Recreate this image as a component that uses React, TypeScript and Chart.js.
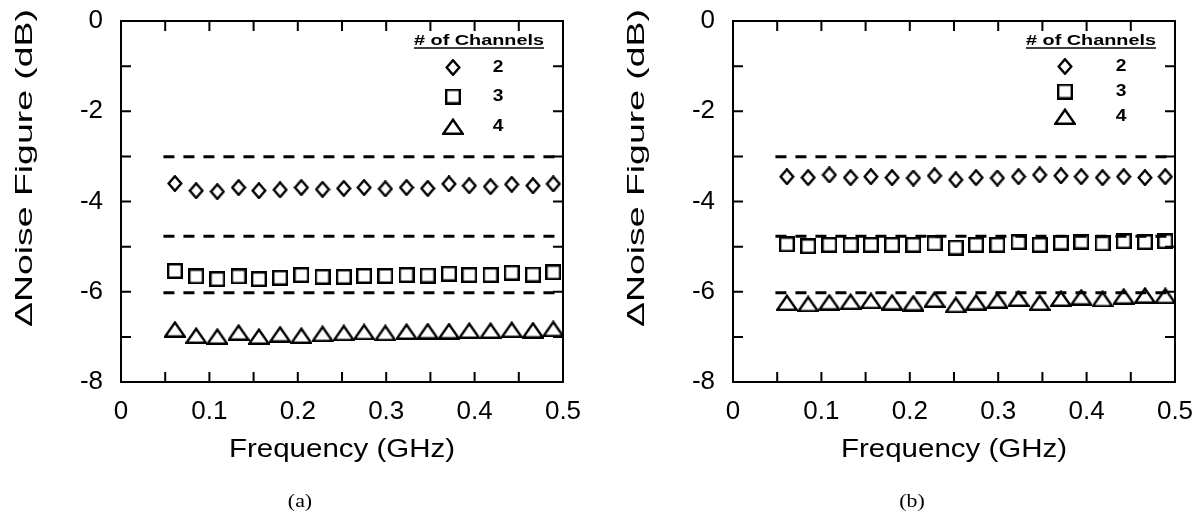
import React, { useEffect, useRef } from "react";
import { Chart, registerables } from "chart.js";

Chart.register(...registerables);

const SANS = "'Liberation Sans', Arial, Helvetica, sans-serif";
const SERIF = "'Liberation Serif', 'Times New Roman', serif";

// ---- data ----
const freqGHz = [0.061, 0.085, 0.109, 0.133, 0.156, 0.18, 0.204, 0.228, 0.252, 0.275, 0.299, 0.323, 0.347, 0.371, 0.394, 0.418, 0.442, 0.466, 0.489];

const ch2A = [-3.6, -3.76, -3.78, -3.69, -3.76, -3.74, -3.69, -3.73, -3.71, -3.69, -3.72, -3.69, -3.71, -3.61, -3.65, -3.67, -3.62, -3.65, -3.61];
const ch3A = [-5.54, -5.66, -5.72, -5.66, -5.72, -5.69, -5.63, -5.67, -5.67, -5.65, -5.65, -5.63, -5.64, -5.6, -5.63, -5.63, -5.58, -5.62, -5.57];
const ch4A = [-6.83, -6.97, -6.99, -6.9, -6.99, -6.94, -6.97, -6.93, -6.91, -6.89, -6.91, -6.88, -6.87, -6.87, -6.86, -6.86, -6.84, -6.85, -6.82];

const ch2B = [-3.45, -3.47, -3.41, -3.47, -3.45, -3.47, -3.48, -3.43, -3.52, -3.47, -3.48, -3.45, -3.41, -3.43, -3.45, -3.47, -3.45, -3.47, -3.45];
const ch3B = [-4.95, -4.99, -4.96, -4.96, -4.96, -4.96, -4.96, -4.93, -5.02, -4.96, -4.96, -4.9, -4.96, -4.91, -4.89, -4.93, -4.88, -4.9, -4.88];
const ch4B = [-6.24, -6.27, -6.23, -6.22, -6.2, -6.23, -6.25, -6.17, -6.29, -6.23, -6.19, -6.15, -6.24, -6.15, -6.12, -6.16, -6.1, -6.08, -6.09];

const refLevels = [-3.01, -4.77, -6.02];
const refRange = [0.048, 0.5];

const xTickMarks = [0, 0.05, 0.1, 0.15, 0.2, 0.25, 0.3, 0.35, 0.4, 0.45, 0.5];
const yTickMarks = [0, -1, -2, -3, -4, -5, -6, -7, -8];

const legendTitle = "# of Channels";
const legendLabels = ["2", "3", "4"];
const xTitle = "Frequency (GHz)";
const yTitle = "\u0394Noise Figure (dB)";

type Kind = "diamond" | "square" | "triangle";

function makeMarker(kind: Kind): HTMLCanvasElement {
  const c = document.createElement("canvas");
  const lw = 2.4;
  let w = 16, h = 17;
  if (kind === "square") { w = 16; h = 16; }
  if (kind === "triangle") { w = 22; h = 17; }
  c.width = w; c.height = h;
  const ctx = c.getContext("2d")!;
  ctx.strokeStyle = "#000";
  ctx.lineWidth = lw;
  ctx.lineJoin = "miter";
  ctx.beginPath();
  const m = lw / 2;
  if (kind === "diamond") {
    ctx.moveTo(w / 2, m); ctx.lineTo(w - m - 0.5, h / 2); ctx.lineTo(w / 2, h - m); ctx.lineTo(m + 0.5, h / 2); ctx.closePath();
  } else if (kind === "square") {
    ctx.rect(m, m, w - 2 * m, h - 2 * m);
  } else {
    ctx.moveTo(w / 2, m + 0.5); ctx.lineTo(w - m, h - m); ctx.lineTo(m, h - m); ctx.closePath();
  }
  ctx.stroke();
  return c;
}

interface PanelCfg {
  caption: string;
  s2: number[];
  s3: number[];
  s4: number[];
  padRight: number;
  legendRowsY: number[];
  legendLabelDx: number;
}

function drawScaled(ctx: CanvasRenderingContext2D, text: string, cx: number, cy: number, font: string, sx: number, rotate = false) {
  ctx.save();
  ctx.font = font;
  ctx.fillStyle = "#000";
  ctx.textAlign = "center";
  ctx.textBaseline = "middle";
  ctx.translate(cx, cy);
  if (rotate) ctx.rotate(-Math.PI / 2);
  ctx.scale(sx, 1);
  ctx.fillText(text, 0, 0);
  ctx.restore();
}

function drawToWidth(ctx: CanvasRenderingContext2D, text: string, cx: number, cy: number, font: string, width: number, rotate = false) {
  ctx.save();
  ctx.font = font;
  const w = ctx.measureText(text).width;
  ctx.restore();
  drawScaled(ctx, text, cx, cy, font, width / w, rotate);
}

const zeroPad = (s: any) => {
  s.paddingTop = 0;
  s.paddingBottom = 0;
  s.paddingLeft = 0;
  s.paddingRight = 0;
};

function Panel({ cfg, left, width }: { cfg: PanelCfg; left: number; width: number }) {
  const ref = useRef<HTMLCanvasElement | null>(null);
  useEffect(() => {
    if (!ref.current) return;
    const markers = {
      diamond: makeMarker("diamond"),
      square: makeMarker("square"),
      triangle: makeMarker("triangle"),
    };
    const kinds: Kind[] = ["diamond", "square", "triangle"];
    const series = [cfg.s2, cfg.s3, cfg.s4];

    const refSets = refLevels.map((lvl) => ({
      type: "line" as const,
      data: refRange.map((x) => ({ x, y: lvl })),
      borderColor: "#000",
      borderWidth: 3,
      borderDash: [11, 9],
      pointRadius: 0,
      showLine: true,
      fill: false,
    }));
    const markerSets = series.map((vals, k) => ({
      type: "scatter" as const,
      data: freqGHz.map((f, i) => ({ x: f, y: vals[i] })),
      pointStyle: markers[kinds[k]],
      pointRadius: 7,
      showLine: false,
    }));

    const framePlugin = {
      id: "frame",
      afterDraw(chart: any) {
        const ctx: CanvasRenderingContext2D = chart.ctx;
        const { left: l, right: r, top: t, bottom: b } = chart.chartArea;
        const xs = chart.scales.x;
        const ys = chart.scales.y;
        ctx.save();
        ctx.strokeStyle = "#000";
        ctx.lineWidth = 2;
        ctx.strokeRect(l, t, r - l, b - t);
        ctx.beginPath();
        for (const v of xTickMarks) {
          const px = xs.getPixelForValue(v);
          ctx.moveTo(px, b); ctx.lineTo(px, b - 10);
          ctx.moveTo(px, t); ctx.lineTo(px, t + 10);
        }
        for (const v of yTickMarks) {
          const py = ys.getPixelForValue(v);
          ctx.moveTo(l, py); ctx.lineTo(l + 10, py);
          ctx.moveTo(r, py); ctx.lineTo(r - 10, py);
        }
        ctx.stroke();

        // legend
        const tx = l + 358;
        drawToWidth(ctx, legendTitle, tx, 41, `bold 15px ${SANS}`, 130);
        ctx.lineWidth = 1.5;
        ctx.beginPath();
        ctx.moveTo(tx - 65, 48); ctx.lineTo(tx + 65, 48);
        ctx.stroke();
        kinds.forEach((k, i) => {
          const img = markers[k];
          const my = cfg.legendRowsY[i];
          ctx.drawImage(img, l + 332 - img.width / 2, my - img.height / 2);
          drawScaled(ctx, legendLabels[i], l + cfg.legendLabelDx, my, `bold 16px ${SANS}`, 1.2);
        });

        // axis titles
        const cx = (l + r) / 2;
        drawToWidth(ctx, xTitle, cx, 450, `25px ${SANS}`, 226);
        drawToWidth(ctx, yTitle, 25, 168, `24px ${SANS}`, 318, true);

        // caption
        drawScaled(ctx, cfg.caption, cx - 42, 502, `19px ${SERIF}`, 1.15);
        ctx.restore();
      },
    };

    const chart = new Chart(ref.current, {
      type: "scatter",
      data: { datasets: [...refSets, ...markerSets] as any },
      options: {
        responsive: false,
        animation: false,
        layout: { padding: { top: 21, right: cfg.padRight, bottom: 0, left: 0 } },
        plugins: { legend: { display: false }, tooltip: { enabled: false } },
        scales: {
          x: {
            type: "linear",
            min: 0,
            max: 0.5,
            grid: { display: false, drawTicks: false },
            border: { display: false },
            ticks: {
              stepSize: 0.1,
              autoSkip: false,
              maxRotation: 0,
              padding: 14,
              color: "#000",
              font: { family: SANS, size: 26 },
              callback: (v: any) => String(Math.round(Number(v) * 10) / 10),
            },
            afterFit: (s: any) => { s.height = 136; zeroPad(s); },
          },
          y: {
            type: "linear",
            min: -8,
            max: 0,
            grid: { display: false, drawTicks: false },
            border: { display: false },
            ticks: {
              stepSize: 2,
              padding: 18,
              color: "#000",
              font: { family: SANS, size: 26 },
              callback: (v: any) => String(Math.round(Number(v))),
            },
            afterFit: (s: any) => { s.width = 121; zeroPad(s); },
          },
        },
      },
      plugins: [framePlugin],
    });
    return () => chart.destroy();
  }, []);
  return (
    <canvas
      ref={ref}
      width={width}
      height={518}
      style={{ position: "absolute", left, top: 0, width, height: 518 }}
    />
  );
}

const panelA: PanelCfg = {
  caption: "(a)",
  s2: ch2A,
  s3: ch3A,
  s4: ch4A,
  padRight: 37,
  legendRowsY: [67.5, 96.5, 126.5],
  legendLabelDx: 377,
};

const panelB: PanelCfg = {
  caption: "(b)",
  s2: ch2B,
  s3: ch3B,
  s4: ch4B,
  padRight: 26,
  legendRowsY: [66.5, 91.5, 116.5],
  legendLabelDx: 388,
};

export default function App() {
  return (
    <div style={{ position: "absolute", left: 0, top: 0, width: 1201, height: 518, background: "#fff", overflow: "hidden" }}>
      <Panel cfg={panelA} left={0} width={600} />
      <Panel cfg={panelB} left={612} width={589} />
    </div>
  );
}
